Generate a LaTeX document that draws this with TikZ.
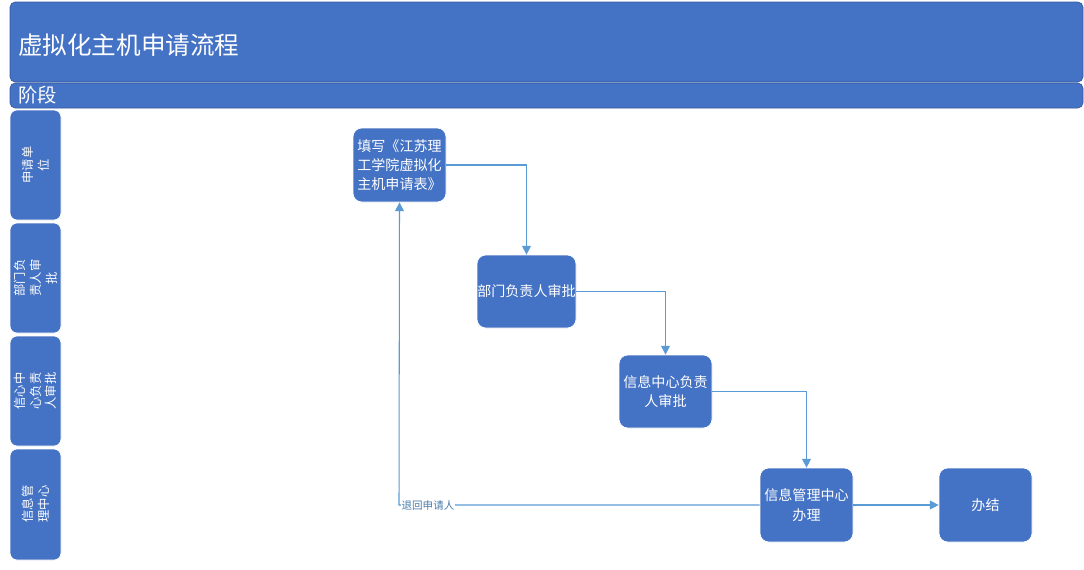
\documentclass[tikz,border=0pt]{standalone}
\usepackage{fontspec}
\setmainfont{Noto Sans CJK SC}
\usetikzlibrary{arrows.meta}
\definecolor{boxblue}{HTML}{4472C4}
\definecolor{lineblue}{HTML}{5B9BD5}
\tikzset{
 px/.style={x=0.02cm,y=-0.02cm},
 band/.style={fill=boxblue,draw=boxblue!80!black,rounded corners=3pt,line width=0.4pt},
 stepbox/.style={fill=boxblue,draw=white,rounded corners=5pt,text=white,font=\fontsize{8}{11}\selectfont,align=left,inner sep=0pt},
 lanebox/.style={fill=boxblue,draw=white,rounded corners=4pt,text=white,font=\fontsize{7}{9}\selectfont,align=left,inner sep=0pt},
 conn/.style={draw=lineblue,line width=0.6pt,-{Triangle[length=5pt,width=5pt]}}
}
\begin{document}
\begin{tikzpicture}[px]
\useasboundingbox (0,0) rectangle (1084,569);
\fill[white] (0,0) rectangle (1084,569);
\draw[band] (10,2) rectangle (1083,82);
\node[anchor=west,text=white,font=\fontsize{14}{16}\selectfont] (title) at (12,45) {虚拟化主机申请流程};
\draw[band] (10,83) rectangle (1083,108);
\node[anchor=west,text=white,font=\fontsize{11}{13}\selectfont] (stage) at (12,95) {阶段};
% lanes
\draw[lanebox] (10,110) rectangle (61,220);
\node[text=white,rotate=90,font=\fontsize{7}{9}\selectfont,align=center] (l1) at (35.5,165) {申请单\\位};
\draw[lanebox] (10,223) rectangle (61,333);
\node[text=white,rotate=90,font=\fontsize{7}{9}\selectfont,align=center] (l2) at (35.5,278) {部门负\\责人审\\批};
\draw[lanebox] (10,336) rectangle (61,446);
\node[text=white,rotate=90,font=\fontsize{7}{9}\selectfont,align=center] (l3) at (35.5,391) {信心中\\心负责\\人审批};
\draw[lanebox] (10,449) rectangle (61,560);
\node[text=white,rotate=90,font=\fontsize{7}{9}\selectfont,align=center] (l4) at (35.5,504) {信息管\\理中心};
% steps
\node[stepbox,minimum width=93*0.02cm,minimum height=74*0.02cm] (b1) at (399.5,165) {填写《江苏理\\工学院虚拟化\\主机申请表》};
\node[stepbox,minimum width=99*0.02cm,minimum height=73*0.02cm] (b2) at (526.5,291.5) {部门负责人审批};
\node[stepbox,minimum width=93*0.02cm,minimum height=73*0.02cm,align=center] (b3) at (665.5,391.5) {信息中心负责\\人审批};
\node[stepbox,minimum width=93*0.02cm,minimum height=74*0.02cm,align=center] (b4) at (806.5,505) {信息管理中心\\办理};
\node[stepbox,minimum width=93*0.02cm,minimum height=74*0.02cm] (b5) at (985.5,505) {办结};
\draw[conn] (b1.east) -| (b2.north);
\draw[conn] (b2.east) -| (b3.north);
\draw[conn] (b3.east) -| (b4.north);
\draw[conn] (b4.east) -- (b5.west);
\coordinate (ret) at (399,505);
\draw[conn] (b4.west) -- (ret) -- (b1.south);
\node[fill=white,inner sep=0.5pt,text=lineblue!80!black,font=\fontsize{6}{7}\selectfont] (rl) at (428,505) {退回申请人};
\end{tikzpicture}
\end{document}
